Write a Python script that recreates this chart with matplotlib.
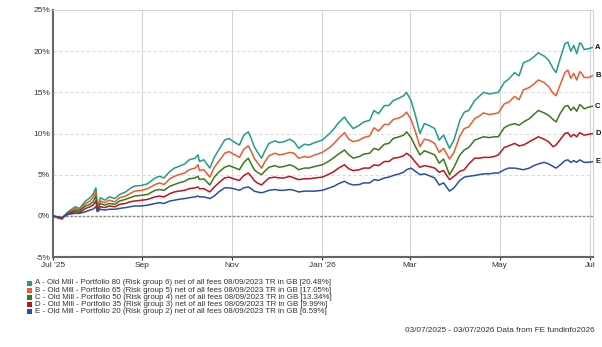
import matplotlib
matplotlib.use("Agg")
import matplotlib.pyplot as plt
from matplotlib.patches import Rectangle
import pandas as pd

plt.rcParams['font.family'] = ['Liberation Sans', 'DejaVu Sans']

dates = ["2025-07-03","2025-07-06","2025-07-09","2025-07-12","2025-07-14","2025-07-18","2025-07-21","2025-07-25","2025-07-28","2025-07-30",
         "2025-08-01","2025-08-02","2025-08-04","2025-08-07","2025-08-10","2025-08-14","2025-08-17","2025-08-21","2025-08-24","2025-08-27",
         "2025-09-01","2025-09-05","2025-09-10","2025-09-13","2025-09-16","2025-09-20","2025-09-23","2025-09-26","2025-09-30","2025-10-03",
         "2025-10-07","2025-10-09","2025-10-10","2025-10-13","2025-10-17","2025-10-20","2025-10-23","2025-10-27","2025-10-30","2025-11-02",
         "2025-11-06","2025-11-09","2025-11-12","2025-11-14","2025-11-16","2025-11-18","2025-11-21","2025-11-23","2025-11-26","2025-11-30",
         "2025-12-03","2025-12-06","2025-12-10","2025-12-13","2025-12-16","2025-12-20","2025-12-23","2025-12-27","2026-01-01","2026-01-06",
         "2026-01-09","2026-01-12","2026-01-16","2026-01-19","2026-01-22","2026-01-26","2026-01-29","2026-02-02","2026-02-05","2026-02-08",
         "2026-02-12","2026-02-15","2026-02-18","2026-02-22","2026-02-25","2026-02-27","2026-03-02","2026-03-05","2026-03-08","2026-03-11",
         "2026-03-14","2026-03-18","2026-03-21","2026-03-24","2026-03-28","2026-03-31","2026-04-04","2026-04-07","2026-04-10","2026-04-14",
         "2026-04-17","2026-04-20","2026-04-24","2026-04-27","2026-04-30","2026-05-04","2026-05-07","2026-05-11","2026-05-14","2026-05-17",
         "2026-05-21","2026-05-24","2026-05-27","2026-05-31","2026-06-03","2026-06-06","2026-06-08","2026-06-11","2026-06-14","2026-06-16",
         "2026-06-18","2026-06-20","2026-06-22","2026-06-24","2026-06-25","2026-06-27","2026-06-30","2026-07-03"]

series_a = [0.0, -0.2, -0.4, 0.3, 0.6, 1.1, 0.9, 1.8, 2.2, 2.6,
            3.4, 1.0, 2.2, 1.9, 2.3, 2.1, 2.6, 2.9, 3.3, 3.6,
            3.7, 3.9, 4.6, 4.8, 4.6, 5.4, 5.8, 6.0, 6.3, 6.8,
            7.0, 7.4, 6.6, 6.8, 5.8, 7.1, 8.0, 9.2, 9.4, 9.0,
            8.6, 9.8, 10.2, 9.4, 8.4, 7.8, 7.0, 7.8, 8.8, 9.1,
            8.9, 9.0, 9.3, 9.0, 8.2, 8.7, 8.6, 8.9, 9.2, 10.0,
            10.6, 11.3, 12.0, 11.2, 10.6, 11.0, 11.4, 11.6, 12.8, 12.4,
            13.4, 13.4, 14.0, 14.3, 14.6, 15.0, 14.0, 12.2, 10.0, 11.2,
            11.0, 10.6, 9.2, 9.8, 8.2, 9.2, 11.6, 12.6, 12.8, 14.0,
            14.5, 15.0, 14.8, 14.9, 15.0, 16.2, 16.6, 17.4, 17.0, 18.6,
            18.9, 19.3, 19.8, 19.4, 18.9, 17.9, 17.4, 19.2, 20.9, 21.1,
            20.0, 20.7, 19.7, 21.0, 20.9, 20.2, 20.3, 20.48]
series_b = [0.0, -0.2, -0.4, 0.2, 0.5, 0.9, 0.7, 1.5, 1.8, 2.2,
            2.9, 0.8, 1.8, 1.6, 1.9, 1.7, 2.2, 2.4, 2.7, 3.0,
            3.1, 3.3, 3.8, 4.0, 3.8, 4.5, 4.8, 5.0, 5.2, 5.6,
            5.8, 6.2, 5.5, 5.6, 4.7, 5.9, 6.6, 7.6, 7.8, 7.5,
            7.1, 8.1, 8.5, 7.8, 7.0, 6.5, 5.8, 6.5, 7.3, 7.6,
            7.4, 7.5, 7.7, 7.6, 7.0, 7.2, 7.1, 7.4, 7.7, 8.3,
            8.8, 9.4, 10.1, 9.3, 9.0, 9.2, 9.5, 9.7, 10.7, 10.3,
            11.1, 11.1, 11.7, 11.9, 12.2, 12.6, 11.7, 10.2, 8.4, 9.3,
            9.2, 8.8, 7.7, 8.2, 6.9, 7.7, 9.7, 10.6, 10.8, 11.8,
            12.1, 12.5, 12.3, 12.4, 12.5, 13.6, 13.8, 14.5, 14.1, 15.3,
            15.6, 16.0, 16.5, 16.2, 15.7, 14.9, 14.6, 16.0, 17.4, 17.7,
            16.7, 17.3, 16.5, 17.5, 17.4, 16.8, 16.8, 17.05]
series_c = [0.0, -0.2, -0.3, 0.2, 0.4, 0.7, 0.6, 1.2, 1.4, 1.7,
            2.4, 0.7, 1.5, 1.3, 1.5, 1.4, 1.8, 2.0, 2.2, 2.4,
            2.5, 2.6, 3.1, 3.2, 3.1, 3.6, 3.8, 4.0, 4.2, 4.5,
            4.6, 4.8, 4.4, 4.5, 3.75, 4.7, 5.3, 5.9, 6.1, 5.9,
            5.6, 6.5, 7.0, 6.3, 5.6, 5.3, 5.0, 5.4, 5.9, 6.1,
            5.9, 6.0, 6.2, 6.0, 5.6, 5.8, 5.8, 6.0, 6.2, 6.7,
            7.1, 7.5, 8.0, 7.4, 7.0, 7.2, 7.5, 7.6, 8.2, 8.0,
            8.7, 8.8, 9.4, 9.6, 9.8, 10.2, 9.5, 8.4, 7.4, 7.9,
            7.7, 7.4, 6.4, 6.9, 5.0, 5.9, 7.4, 8.0, 8.3, 9.2,
            9.4, 9.6, 9.5, 9.6, 9.6, 10.7, 11.0, 11.2, 11.0, 11.4,
            11.8, 12.3, 12.8, 12.5, 12.2, 11.7, 11.4, 12.5, 13.3, 13.4,
            12.8, 13.2, 12.7, 13.5, 13.4, 13.0, 13.2, 13.34]
series_d = [0.0, -0.2, -0.3, 0.1, 0.3, 0.5, 0.4, 0.9, 1.1, 1.3,
            1.8, 0.6, 1.1, 1.0, 1.2, 1.1, 1.4, 1.5, 1.7, 1.8,
            1.9, 2.0, 2.3, 2.4, 2.3, 2.7, 2.9, 3.0, 3.1, 3.3,
            3.4, 3.5, 3.3, 3.3, 2.9, 3.5, 4.0, 4.6, 4.7, 4.5,
            4.3, 4.9, 5.2, 4.8, 4.3, 4.0, 3.75, 4.1, 4.6, 4.7,
            4.6, 4.6, 4.8, 4.6, 4.4, 4.5, 4.5, 4.6, 4.7, 5.1,
            5.4, 5.8, 6.2, 5.7, 5.5, 5.6, 5.8, 5.8, 6.2, 6.1,
            6.6, 6.6, 7.0, 7.1, 7.3, 7.6, 7.2, 6.5, 5.9, 6.1,
            6.0, 5.8, 5.3, 5.5, 4.4, 4.8, 5.4, 5.6, 6.3, 7.0,
            7.0, 7.1, 7.1, 7.2, 7.4, 8.3, 8.5, 8.8, 8.5, 8.6,
            9.0, 9.3, 9.6, 9.3, 9.0, 8.4, 8.6, 9.3, 10.0, 10.1,
            9.6, 9.9, 9.6, 10.1, 10.0, 9.8, 9.9, 9.99]
series_e = [0.0, -0.1, -0.2, 0.1, 0.2, 0.3, 0.3, 0.5, 0.7, 0.8,
            1.1, 0.5, 0.8, 0.7, 0.8, 0.8, 0.9, 1.0, 1.1, 1.2,
            1.2, 1.3, 1.5, 1.6, 1.5, 1.8, 1.9, 2.0, 2.1, 2.2,
            2.3, 2.4, 2.3, 2.3, 2.1, 2.4, 2.9, 3.4, 3.4, 3.3,
            3.1, 3.4, 3.5, 3.3, 3.0, 2.9, 2.8, 2.9, 3.1, 3.2,
            3.1, 3.1, 3.2, 3.1, 2.9, 3.0, 3.0, 3.0, 3.1, 3.4,
            3.6, 3.9, 4.2, 3.9, 3.75, 3.8, 4.0, 4.0, 4.4, 4.3,
            4.6, 4.7, 4.9, 5.1, 5.3, 5.6, 5.8, 5.4, 5.0, 5.1,
            4.9, 4.6, 3.75, 4.0, 3.0, 3.4, 4.3, 4.7, 4.8, 4.9,
            5.0, 5.1, 5.1, 5.2, 5.2, 5.6, 5.8, 5.8, 5.7, 5.6,
            5.8, 6.1, 6.3, 6.5, 6.3, 6.0, 5.8, 6.2, 6.7, 6.8,
            6.5, 6.7, 6.5, 6.8, 6.7, 6.5, 6.5, 6.59]

letters = ["A", "B", "C", "D", "E"]
names = ["A - Old Mill - Portfolio 80 (Risk group 6) net of all fees 08/09/2023 TR in GB",
         "B - Old Mill - Portfolio 65 (Risk group 5) net of all fees 08/09/2023 TR in GB",
         "C - Old Mill - Portfolio 50 (Risk group 4) net of all fees 08/09/2023 TR in GB",
         "D - Old Mill - Portfolio 35 (Risk group 3) net of all fees 08/09/2023 TR in GB",
         "E - Old Mill - Portfolio 20 (Risk group 2) net of all fees 08/09/2023 TR in GB"]
finals = ["20.48%", "17.05%", "13.34%", "9.99%", "6.59%"]
colors = ["#1f9e89", "#ee5a30", "#3b7a1c", "#c3121c", "#2a4ea6"]

tick_dates = ["2025-07-03", "2025-09-01", "2025-11-01", "2026-01-01", "2026-03-01", "2026-05-01", "2026-07-01"]
tick_labels = ["Jul '25", "Sep", "Nov", "Jan '26", "Mar", "May", "Jul"]
y_ticks = [-5, 0, 5, 10, 15, 20, 25]
footer = "03/07/2025 - 03/07/2026 Data from FE fundinfo2026"

x = pd.to_datetime(dates)
all_series = [series_a, series_b, series_c, series_d, series_e]

W, H = 602, 347
fig = plt.figure(figsize=(6.02, 3.47), dpi=100)
ax = fig.add_axes([53/W, 1-257/H, (593-53)/W, (257-10)/H])

for s, c in zip(all_series, colors):
    ax.plot(x, s, color=c, lw=1.1, zorder=3)

for s, l in zip(all_series, letters):
    ax.annotate(l, xy=(x[-1], s[-1]), xytext=(1.5, 0), textcoords="offset points",
                fontsize=5.5, fontweight="bold", va="center", ha="left", color="#111",
                annotation_clip=False)

ax.set_xlim(pd.Timestamp("2025-07-03"), pd.Timestamp("2026-07-03"))
ax.set_ylim(-5, 25)
ax.set_yticks(y_ticks)
ax.set_yticklabels([f"{v}%" for v in y_ticks])
ax.set_xticks(pd.to_datetime(tick_dates))
ax.set_xticklabels(tick_labels)
ax.tick_params(axis="both", labelsize=6, colors="#333", length=2, width=0.8, pad=1.5)
ax.tick_params(axis="y", length=0, pad=2)

for td in pd.to_datetime(tick_dates)[1:]:
    ax.axvline(td, color="#d4d4d4", lw=0.8, zorder=1)
for yv in [5, 10, 15, 20]:
    ax.axhline(yv, color="#dcdcdc", lw=0.8, ls=(0, (3, 2)), zorder=1)
ax.axhline(0, color="#888888", lw=1.0, ls=(0, (2, 1)), zorder=2)

ax.spines["left"].set_color("#666")
ax.spines["left"].set_linewidth(1.5)
ax.spines["bottom"].set_color("#666")
ax.spines["bottom"].set_linewidth(1.5)
ax.spines["top"].set_color("#d4d4d4")
ax.spines["top"].set_linewidth(0.8)
ax.spines["right"].set_color("#d4d4d4")
ax.spines["right"].set_linewidth(0.8)

# legend
for i, (n, f, c) in enumerate(zip(names, finals, colors)):
    yp = 283 + i * 7.2
    fig.patches.append(Rectangle((27/W, 1-(yp+2.5)/H), 5/W, 5/H, transform=fig.transFigure,
                                 facecolor=c, edgecolor="none"))
    fig.text(35/W, 1-yp/H, f"{n} [{f}]", fontsize=5.65, va="center", ha="left", color="#333")

fig.text(595/W, 1-331/H, footer, fontsize=5.9, ha="right", va="center", color="#333")

fig.savefig("out.png", dpi=100)
